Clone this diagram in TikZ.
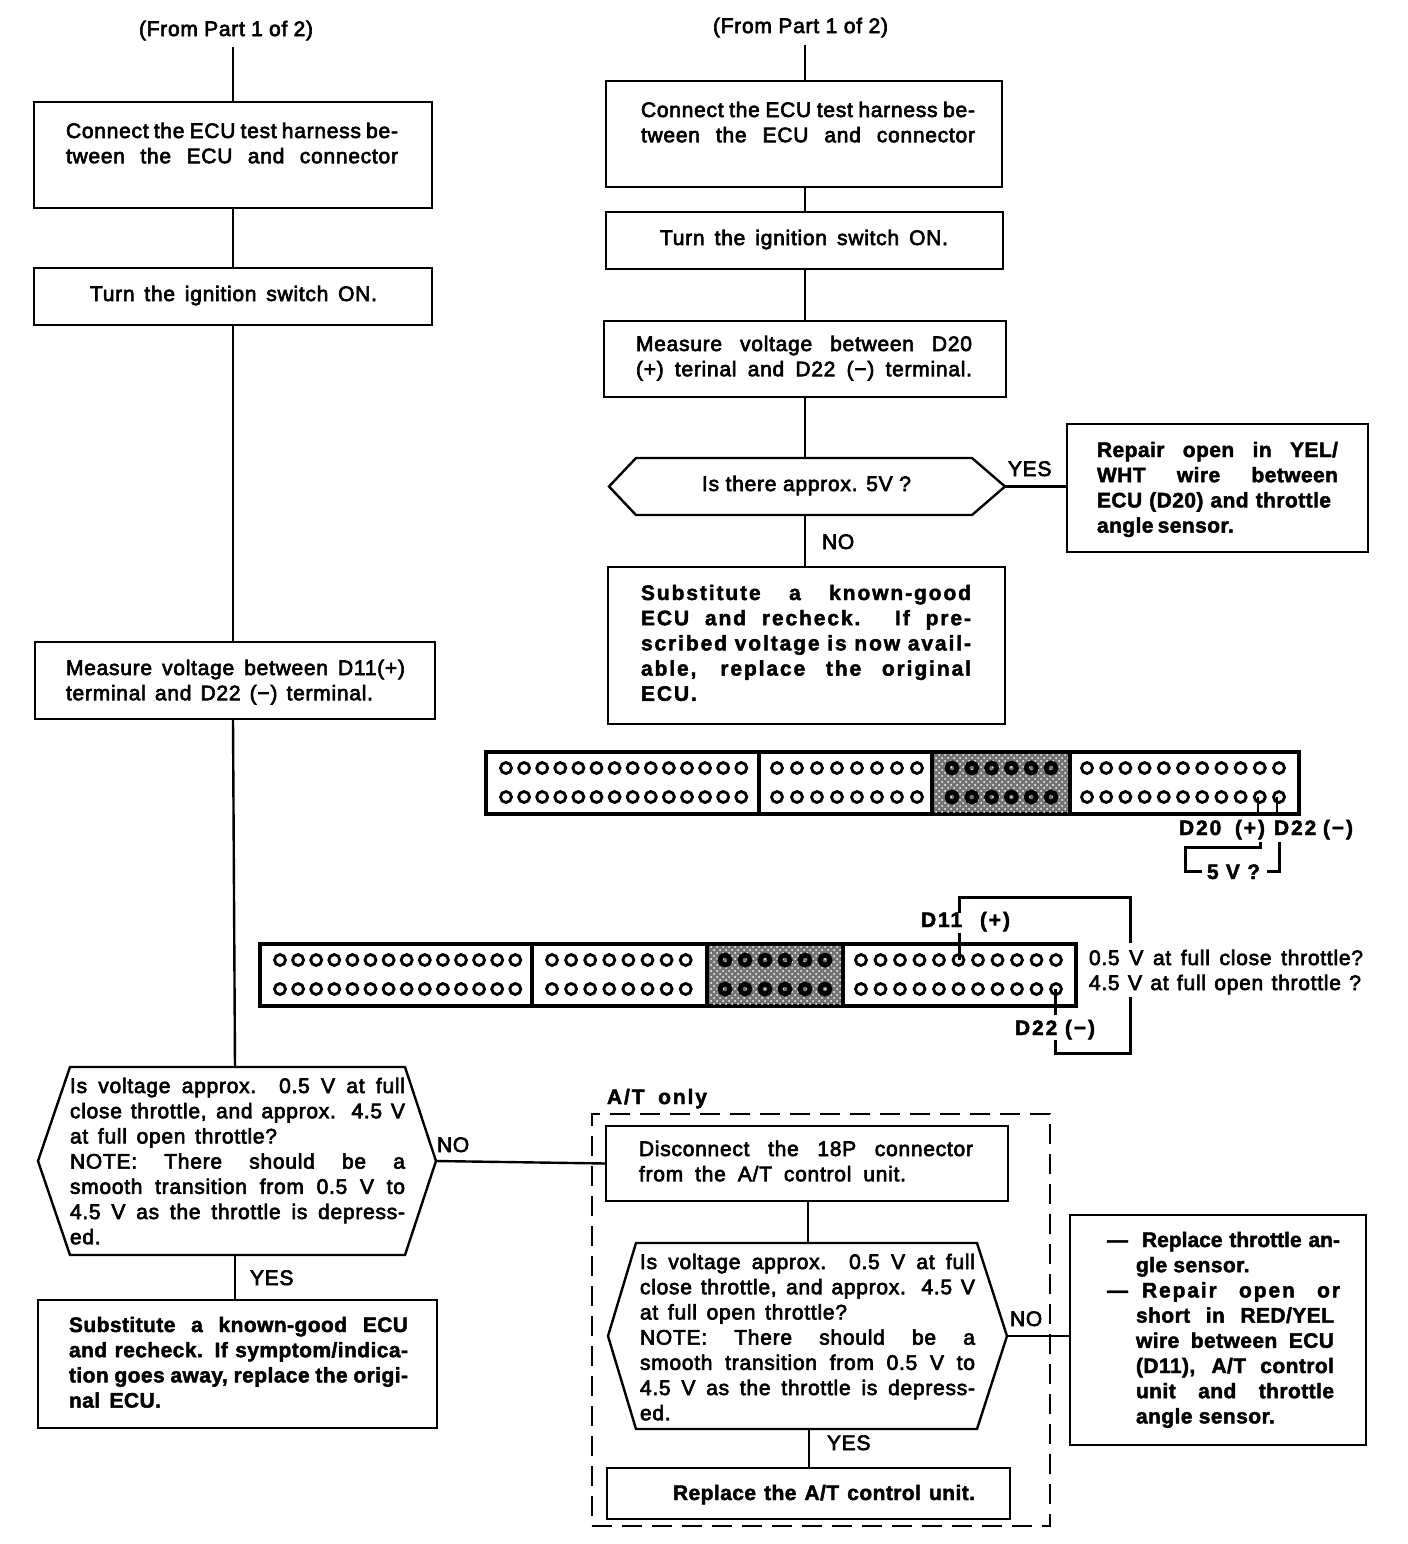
\documentclass[tikz,border=0pt]{standalone}
\usepackage{fontspec}
\setmainfont{Liberation Sans}
\newfontfamily\medf[FakeBold=3,LetterSpace=3.5]{Liberation Sans}
\newfontfamily\bolf[UprightFont={* Bold},FakeBold=2,LetterSpace=2]{Liberation Sans}
\newfontfamily\boln[UprightFont={* Bold},FakeBold=2]{Liberation Sans}
\newfontfamily\bolw[UprightFont={* Bold},FakeBold=2,LetterSpace=9]{Liberation Sans}
\usetikzlibrary{patterns,calc}
\newlength\px \setlength\px{0.5pt}
\tikzset{
  flowrect/.style={draw,line width=1.2pt,rectangle,inner sep=0pt,outer sep=0pt},
  flowhex/.style={rectangle,inner sep=0pt,outer sep=0pt},
  flowline/.style={draw,line width=1.2pt},
  thickline/.style={draw,line width=1.5pt},
  lab/.style={inner sep=0pt,outer sep=0pt,anchor=base west,font=\fontsize{10.5pt}{12.5pt}\selectfont\medf},
  blab/.style={lab,font=\fontsize{10.5pt}{12.5pt}\selectfont\bolw},
}
% style,name,x0,y0,x1,y1,textx,textw,firstbaseline then lines
\newcommand\flownode[9]{\def\fnA{#1}\def\fnB{#2}\def\fnC{#3}\def\fnD{#4}\def\fnE{#5}\def\fnF{#6}\def\fnG{#7}\def\fnH{#8}\def\fnI{#9}\flownodeB}
\newcommand\flownodeB[1]{%
  \node[\fnA,minimum width=\fnE\px-\fnC\px,minimum height=\fnF\px-\fnD\px] (\fnB) at ({(\fnC+\fnE)/2},{(\fnD+\fnF)/2})
  {\parbox[c][\dimexpr\fnF\px-\fnD\px\relax][t]{\dimexpr\fnE\px-\fnC\px\relax}{%
    \fontsize{10.5pt}{12.5pt}\selectfont\setlength\parindent{0pt}\setlength\baselineskip{12.6pt}%
    \setlength\leftskip{\dimexpr\fnG\px-\fnC\px\relax}\setlength\rightskip{0pt}\setlength\parfillskip{0pt plus 1fil}%
    \def\tw{\fnH\px}%
    \vspace*{\dimexpr\fnI\px-\fnD\px-20\px\relax}#1}};}
\newcommand\J[1]{\leavevmode\makebox[\tw][s]{\rule{0pt}{10pt}#1}\par}
\newcommand\N[2]{\leavevmode\makebox[#1\px][s]{\rule{0pt}{10pt}#2}\par}
\newcommand\W[2]{\makebox[#1\px][s]{#2}}
\newcommand\hexline[3]{\draw[flowline] (#1.west) -- ($(#1.north west)+(#2,0)$) -- ($(#1.north east)+(-#3,0)$) -- (#1.east) -- ($(#1.south east)+(-#3,0)$) -- ($(#1.south west)+(#2,0)$) -- cycle;}
% holes: y, x start, spacing, count
\newcommand\holes[4]{\foreach \i in {1,...,#4}{\draw[line width=1.4pt] ({#2+(\i-1)*#3},#1) ellipse (5.5 and 5.5);}}
\newcommand\darkholes[4]{\foreach \i in {1,...,#4}{\draw[line width=2.4pt] ({#2+(\i-1)*#3},#1) circle (5);}}
\begin{document}
\begin{tikzpicture}[x=0.5pt,y=-0.5pt]
\useasboundingbox (0,0) rectangle (1408,1544);
\fill[white] (0,0) rectangle (1408,1544);

%%% left column
\node[lab] (fromL) at (139,36) {\W{174}{(From Part 1 of 2)}};
\coordinate (fromLb) at (233,47);
\flownode{flowrect}{l1}{34}{102}{432}{208}{66}{332}{138}{\medf
 \J{Connect the ECU test harness be-}\J{tween the ECU and connector}}
\flownode{flowrect}{l2}{34}{268}{432}{325}{90}{287}{301}{\medf\J{Turn the ignition switch ON.}}
\flownode{flowrect}{l3}{35}{642}{435}{719}{66}{339}{675}{\medf
 \J{Measure voltage between D11(+)}\N{307}{terminal and D22 (−) terminal.}}
\flownode{flowhex}{l4}{38}{1067}{436}{1255}{70}{335}{1093}{\medf
 \J{Is voltage approx. 0.5 V at full}\J{close throttle, and approx. 4.5 V}\N{207}{at full open throttle?}\J{NOTE: There should be a}\J{smooth transition from 0.5 V to}\J{4.5 V as the throttle is depress-}\N{30}{ed.}}
\hexline{l4}{32}{31}
\flownode{flowrect}{l5}{38}{1300}{437}{1428}{69}{339}{1332}{\bolf
 \J{Substitute a known-good ECU}\J{and recheck. If symptom/indica-}\J{tion goes away, replace the origi-}\N{92}{nal ECU.}}
\draw[flowline] (fromLb) -- (fromLb |- l1.north);
\draw[flowline] (l1.south) -- (l2.north);
\draw[flowline] (l2.south) -- (l2.south |- l3.north);
\draw[flowline] (l3.south -| l2.south) -- (235,1067);
\draw[flowline] (235,1255) -- (235,1300);
\node[lab] (yesL) at (250,1285) {YES};
\node[lab] (noL) at (437,1152) {NO};

%%% right column
\node[lab] (fromR) at (713,33) {\W{175}{(From Part 1 of 2)}};
\coordinate (fromRb) at (805,45);
\flownode{flowrect}{r1}{606}{81}{1002}{187}{641}{334}{117}{\medf
 \J{Connect the ECU test harness be-}\J{tween the ECU and connector}}
\flownode{flowrect}{r2}{606}{212}{1003}{269}{660}{288}{245}{\medf\J{Turn the ignition switch ON.}}
\flownode{flowrect}{r3}{604}{321}{1006}{397}{636}{336}{351}{\medf
 \J{Measure voltage between D20}\J{(+) terinal and D22 (−) terminal.}}
\flownode{flowhex}{r4}{609}{458}{1005}{515}{702}{209}{491}{\medf\J{Is there approx. 5V ?}}
\hexline{r4}{27}{33}
\flownode{flowrect}{r5}{1067}{424}{1368}{552}{1097}{241}{457}{\bolf
 \J{Repair open in YEL/}\J{WHT wire between}\N{234}{ECU (D20) and throttle}\N{135}{angle sensor.}}
\flownode{flowrect}{r6}{608}{567}{1005}{724}{641}{330}{600}{\bolw
 \J{Substitute a known-good}\J{ECU and recheck. If pre-}\J{scribed voltage is now avail-}\J{able, replace the original}\N{49}{ECU.}}
\draw[flowline] (fromRb) -- (fromRb |- r1.north);
\draw[flowline] (fromRb |- r1.south) -- (fromRb |- r2.north);
\draw[flowline] (fromRb |- r2.south) -- (fromRb |- r3.north);
\draw[flowline] (r3.south) -- (r4.north -| r3.south);
\draw[flowline] (r4.east) -- (r5.west |- r4.east);
\draw[flowline] (r4.south -| r3.south) -- (r6.north -| r3.south);
\node[lab] (yesR) at (1008,476) {YES};
\node[lab] (noR) at (822,549) {NO};

%%% connector 1
\draw[fill=white,line width=2pt] (486,752) rectangle (1299,814);
\fill[black!55] (932,754) rectangle (1070,812);
\fill[pattern=crosshatch dots,pattern color=white] (932,754) rectangle (1070,812);
\draw[line width=2pt] (759,752) -- (759,814) (932,752) -- (932,814) (1070,752) -- (1070,814);
\foreach \yy in {768,797}{
 \holes{\yy}{506}{18.1}{14}
 \holes{\yy}{777}{20}{8}
 \darkholes{\yy}{952}{19.8}{6}
 \holes{\yy}{1087}{19.2}{11}
}
\coordinate (d20h) at (1258,797);
\coordinate (d22h) at (1277,797);
\node[blab] (d20) at (1179,835) {\W{86}{D20 (+)}};
\node[blab] (d22) at (1274,835) {\W{79}{D22 (−)}};
\node[blab] (fivev) at (1207,879) {\W{53}{5 V ?}};
\draw[flowline] (d20h) -- (1258,815);
\draw[flowline] (d22h) -- (1277,815);
\draw[thickline] (1260,842) -- (1260,847) -- (1185,847) -- (1185,871) -- (1202,871);
\draw[thickline] (1267,871) -- (1279,871) -- (1279,842);

%%% connector 2
\draw[fill=white,line width=2pt] (260,944) rectangle (1076,1006);
\fill[black!55] (707,946) rectangle (843,1004);
\fill[pattern=crosshatch dots,pattern color=white] (707,946) rectangle (843,1004);
\draw[line width=2pt] (532,944) -- (532,1006) (707,944) -- (707,1006) (843,944) -- (843,1006);
\foreach \yy in {960,989}{
 \holes{\yy}{280}{18.1}{14}
 \holes{\yy}{552}{19.1}{8}
 \darkholes{\yy}{725}{20}{6}
 \holes{\yy}{861}{19.5}{11}
}
\coordinate (d11h) at (959,960);
\coordinate (d22bh) at (1055,989);
\node[blab] (d11) at (921,927) {\W{89}{D11 (+)}};
\node[blab] (d22b) at (1015,1035) {\W{80}{D22 (−)}};
\node[lab] (v05) at (1089,965) {\W{274}{0.5 V at full close throttle?}};
\node[lab] (v45) at (1089,990) {\W{272}{4.5 V at full open throttle ?}};
\draw[thickline] (959,913) -- (959,897) -- (1130,897) -- (1130,943);
\draw[thickline] (959,933) -- (d11h);
\draw[thickline] (1130,997) -- (1130,1053) -- (1055,1053) -- (1055,1040);
\draw[thickline] (d22bh) -- (1055,1015);

%%% A/T block
\node[blab] (atonly) at (607,1104) {\W{100}{A/T only}};
\node[draw,line width=1pt,dash pattern=on 10pt off 5pt,minimum width=458\px,minimum height=412\px,inner sep=0pt] (atbox) at (821,1320) {};
\flownode{flowrect}{a1}{606}{1126}{1008}{1201}{639}{334}{1156}{\medf
 \J{Disconnect the 18P connector}\N{267}{from the A/T control unit.}}
\flownode{flowhex}{a2}{608}{1243}{1007}{1429}{640}{335}{1269}{\medf
 \J{Is voltage approx. 0.5 V at full}\J{close throttle, and approx. 4.5 V}\N{207}{at full open throttle?}\J{NOTE: There should be a}\J{smooth transition from 0.5 V to}\J{4.5 V as the throttle is depress-}\N{30}{ed.}}
\hexline{a2}{28}{30}
\flownode{flowrect}{a3}{607}{1468}{1010}{1519}{673}{302}{1500}{\bolf\J{Replace the A/T control unit.}}
\flownode{flowrect}{a4}{1070}{1215}{1366}{1445}{1107}{227}{1247}{\bolf
 \N{227}{—\hspace{14\px}\W{198}{\boln Replace throttle an-}}
 \N{227}{\hspace{29\px}\makebox[198\px][l]{gle sensor.}}
 \N{227}{—\hspace{14\px}\W{198}{\bolw Repair open or}}
 \N{227}{\hspace{29\px}\W{198}{short in RED/YEL}}
 \N{227}{\hspace{29\px}\W{198}{wire between ECU}}
 \N{227}{\hspace{29\px}\W{198}{(D11), A/T control}}
 \N{227}{\hspace{29\px}\W{198}{unit and throttle}}
 \N{227}{\hspace{29\px}\makebox[198\px][l]{angle sensor.}}}
\draw[flowline] (l4.east) -- (a1.west);
\draw[flowline] (808,1201) -- (808,1243);
\draw[flowline] (809,1429) -- (809,1468);
\draw[flowline] (a2.east) -- (a4.west |- a2.east);
\node[lab] (noA) at (1010,1326) {NO};
\node[lab] (yesA) at (827,1450) {YES};
\end{tikzpicture}
\end{document}
